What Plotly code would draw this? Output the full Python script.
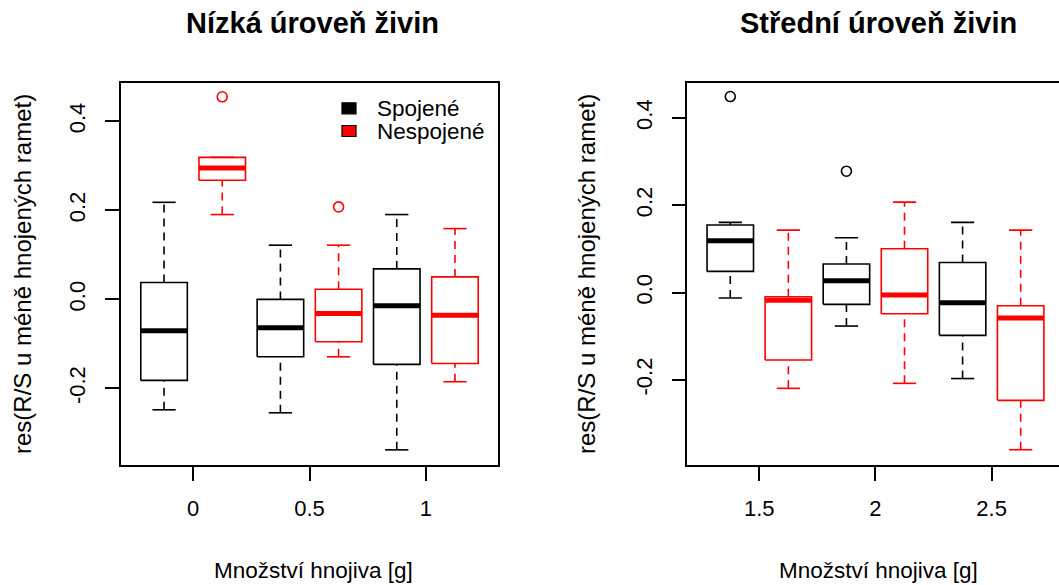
import plotly.graph_objects as go

# ---------------- data ----------------
positions = [1, 2, 3, 4, 5, 6]
groups = ["Spojené", "Nespojené", "Spojené", "Nespojené", "Spojené", "Nespojené"]

tick_pos = [1.5, 3.5, 5.5]
low_tick_labels = ["0", "0.5", "1"]
mid_tick_labels = ["1.5", "2", "2.5"]

low_lower = [-0.248, 0.1905, -0.2547, -0.129, -0.338, -0.185]
low_q1 = [-0.182, 0.2676, -0.129, -0.0953, -0.146, -0.144]
low_median = [-0.0707, 0.295, -0.064, -0.0317, -0.0145, -0.0355]
low_q3 = [0.038, 0.319, 0.0, 0.0229, 0.0685, 0.0505]
low_upper = [0.218, 0.319, 0.1217, 0.1217, 0.1905, 0.159]
low_outliers = [[], [0.455], [], [0.2077], [], []]

mid_lower = [-0.0126, -0.2194, -0.0767, -0.208, -0.197, -0.36]
mid_q1 = [0.0485, -0.1546, -0.027, -0.0485, -0.098, -0.2469]
mid_median = [0.1187, -0.0179, 0.027, -0.0057, -0.0233, -0.0584]
mid_q3 = [0.1546, -0.0096, 0.0653, 0.1003, 0.069, -0.0302]
mid_upper = [0.1607, 0.1431, 0.1255, 0.2072, 0.1607, 0.1431]
mid_outliers = [[0.449], [], [0.278], [], [], []]

panel_titles = ["Nízká úroveň živin", "Střední úroveň živin"]
x_title = "Množství hnojiva [g]"
y_title = "res(R/S u méně hnojených ramet)"

# ---------------- styling ----------------
W, H = 1059, 585
FONT = "Liberation Sans, Arial, sans-serif"
group_color = {"Spojené": "#000000", "Nespojené": "#FF0000"}
BOXW = 0.4      # half box width (boxwex 0.8)
STAPLE = 0.2    # half staple width


def px(x):
    return x / W


def py(y):
    return 1 - y / H


fig = go.Figure()


def add_panel(lower, q1, med, q3, upper, outl, xa, ya):
    for grp, col in group_color.items():
        idx = [i for i, g in enumerate(groups) if g == grp]
        rx, ry, sx, sy, wx, wy, mx, my, ox, oy = ([] for _ in range(10))
        for i in idx:
            p = positions[i]
            rx += [p - BOXW, p + BOXW, p + BOXW, p - BOXW, p - BOXW, None]
            ry += [q1[i], q1[i], q3[i], q3[i], q1[i], None]
            sx += [p - STAPLE, p + STAPLE, None, p - STAPLE, p + STAPLE, None]
            sy += [lower[i], lower[i], None, upper[i], upper[i], None]
            wx += [p, p, None, p, p, None]
            wy += [lower[i], q1[i], None, q3[i], upper[i], None]
            mx += [p - BOXW, p + BOXW, None]
            my += [med[i], med[i], None]
            for o in outl[i]:
                ox.append(p)
                oy.append(o)
        common = dict(xaxis=xa, yaxis=ya, showlegend=False, hoverinfo="skip")
        fig.add_trace(go.Scatter(x=wx, y=wy, mode="lines",
                                 line=dict(color=col, width=1.6, dash="8px,6px"), **common))
        fig.add_trace(go.Scatter(x=sx, y=sy, mode="lines",
                                 line=dict(color=col, width=1.6), **common))
        fig.add_trace(go.Scatter(x=rx, y=ry, mode="lines",
                                 line=dict(color=col, width=1.6), **common))
        fig.add_trace(go.Scatter(x=mx, y=my, mode="lines",
                                 line=dict(color=col, width=5), **common))
        if ox:
            fig.add_trace(go.Scatter(x=ox, y=oy, mode="markers",
                                     marker=dict(symbol="circle-open", size=10,
                                                 color=col, line=dict(width=1.6)),
                                     **common))


add_panel(low_lower, low_q1, low_median, low_q3, low_upper, low_outliers, "x", "y")
add_panel(mid_lower, mid_q1, mid_median, mid_q3, mid_upper, mid_outliers, "x2", "y2")

tickfont = dict(family=FONT, size=22, color="#000000")
ydom = [py(465), py(83)]

axis_common = dict(showgrid=False, zeroline=False, ticks="outside", ticklen=14,
                   tickwidth=1.5, tickcolor="#000000", linecolor="#000000",
                   linewidth=1.5, showline=True, tickfont=tickfont)

fig.update_layout(
    width=W, height=H,
    margin=dict(l=0, r=0, t=0, b=0),
    paper_bgcolor="white", plot_bgcolor="white",
    showlegend=False,
    xaxis=dict(domain=[px(121), px(498)], range=[0.26, 6.74], tickmode="array",
               tickvals=tick_pos, ticktext=low_tick_labels, mirror=True,
               ticklabelstandoff=9, **axis_common),
    yaxis=dict(domain=ydom, range=[-0.372, 0.486], tickmode="array",
               tickvals=[-0.2, 0.0, 0.2, 0.4], ticktext=["-0.2", "0.0", "0.2", "0.4"],
               tickangle=-90, mirror=True, ticklabelstandoff=11, **axis_common),
    xaxis2=dict(domain=[px(687.3), 1.0], range=[0.26, 6.66], tickmode="array",
                tickvals=tick_pos, ticktext=mid_tick_labels, mirror=True,
                anchor="y2", ticklabelstandoff=9, **axis_common),
    yaxis2=dict(domain=ydom, range=[-0.395, 0.480], tickmode="array",
                tickvals=[-0.2, 0.0, 0.2, 0.4], ticktext=["-0.2", "0.0", "0.2", "0.4"],
                tickangle=-90, mirror=False, anchor="x2", ticklabelstandoff=11,
                **axis_common),
)

ann = []
# panel titles
for xc, t in zip([312, 878], panel_titles):
    ann.append(dict(x=px(xc), y=py(23), xref="paper", yref="paper", text=f"<b>{t}</b>",
                    showarrow=False, xanchor="center", yanchor="middle",
                    font=dict(family=FONT, size=29, color="#000000")))
# x titles
for xc in [313, 878]:
    ann.append(dict(x=px(xc), y=py(570), xref="paper", yref="paper", text=x_title,
                    showarrow=False, xanchor="center", yanchor="middle",
                    font=dict(family=FONT, size=22.5, color="#000000")))
# y titles
for xc, yc in [(22, 274), (586, 274)]:
    ann.append(dict(x=px(xc), y=py(yc), xref="paper", yref="paper", text=y_title,
                    showarrow=False, xanchor="center", yanchor="middle", textangle=-90,
                    font=dict(family=FONT, size=24, color="#000000")))
# legend (manual, like R's legend())
legend_rows = [("Spojené", 108.3), ("Nespojené", 131)]
shapes = []
for name, yc in legend_rows:
    shapes.append(dict(type="rect", xref="paper", yref="paper",
                       x0=px(342), x1=px(356), y0=py(yc + 5.5), y1=py(yc - 5.5),
                       fillcolor=group_color[name], line=dict(color="#000000", width=1.2)))
    ann.append(dict(x=px(375), y=py(yc), xref="paper", yref="paper", text=name,
                    showarrow=False, xanchor="left", yanchor="middle",
                    font=dict(family=FONT, size=22.5, color="#000000")))

fig.update_layout(annotations=ann, shapes=shapes)

fig.write_html("out.html")
